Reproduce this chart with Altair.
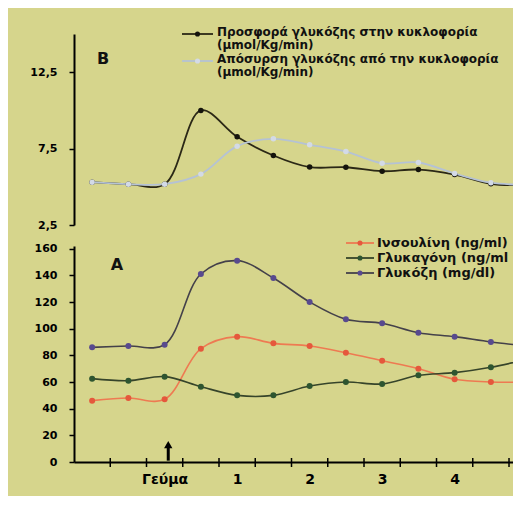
import altair as alt
import pandas as pd

# ---------------- data ----------------
hours = [-1, -0.5, 0, 0.5, 1, 1.5, 2, 2.5, 3, 3.5, 4, 4.5, 5]

# Panel B (umol/Kg/min)
supply = [5.3, 5.17, 5.17, 10.0, 8.27, 7.05, 6.29, 6.28, 6.02, 6.13, 5.8, 5.2, 5.1]
removal = [5.3, 5.17, 5.17, 5.83, 7.66, 8.14, 7.75, 7.31, 6.54, 6.59, 5.87, 5.27, 5.13]

# Panel A
insulin = [46, 48, 47, 85, 94, 89, 87, 82, 76, 70, 62, 60, 60]
glucagon = [62.5, 61, 64, 56.5, 50, 50, 57, 60, 58.5, 65, 67, 71, 77]
glucose = [86, 87, 88, 141, 151, 138, 120, 107, 104, 97, 94, 90, 87]

series_B = ["Προσφορά γλυκόζης στην κυκλοφορία\n(μmol/Kg/min)",
            "Απόσυρση γλυκόζης από την κυκλοφορία\n(μmol/Kg/min)"]
series_A = ["Ινσουλίνη (ng/ml)", "Γλυκαγόνη (ng/ml)", "Γλυκόζη (mg/dl)"]

B_tick_values = [2.5, 7.5, 12.5]
B_tick_labels = ["2,5", "7,5", "12,5"]
A_tick_values = [0, 20, 40, 60, 80, 100, 120, 140, 160]
x_label_values = [0, 1, 2, 3, 4]
x_label_texts = ["Γεύμα", "1", "2", "3", "4"]
x_tick_values = [-0.75, -0.25, 0.25, 0.75, 1.25, 1.75, 2.25, 2.75, 3.25, 3.75, 4.25, 4.75]
meal_arrow = {"t": [0.05], "lo": [1], "hi": [13]}
panel_letters = ["B", "A"]

# ---------------- styling ----------------
BG = "#d6d58c"
FONT = "DejaVu Sans"
B_line_colors = ["#2b2816", "#b5c2d4"]
B_dot_colors = ["#15140c", "#d3dae6"]
A_line_colors = ["#ee7a52", "#36442a", "#44414a"]
A_dot_colors = ["#e5583c", "#2e5530", "#584a8e"]

W = 439
X_DOM = [-1.25, 4.805]
B_DOM = [2.5, 15.0]
A_DOM = [0, 162]
HB = 191
HA = 216

xs = alt.Scale(domain=X_DOM, nice=False, zero=False)
bs = alt.Scale(domain=B_DOM, nice=False, zero=False)
ascale = alt.Scale(domain=A_DOM, nice=False, zero=False)


def label_expr(vals, labels):
    return " : ".join(f"datum.value == {v} ? '{l}'" for v, l in zip(vals, labels)) + " : ''"


x_axis = alt.Axis(values=x_label_values, labelExpr=label_expr(x_label_values, x_label_texts),
                  ticks=False, grid=False, domain=True, domainColor="black", domainWidth=2,
                  labelFont=FONT, labelFontWeight="bold", labelFontSize=14, labelColor="black",
                  labelPadding=10, labelFlush=False, title=None)

common_y = dict(grid=False, domain=True, domainColor="black", domainWidth=2, ticks=True,
                tickSize=5, tickWidth=1.5, tickColor="black", labelFont=FONT,
                labelFontWeight="bold", labelFontSize=11, labelColor="black", labelPadding=12,
                title=None)
B_axis = alt.Axis(values=B_tick_values, labelExpr=label_expr(B_tick_values, B_tick_labels), **common_y)
A_axis = alt.Axis(values=A_tick_values, **common_y)

dfB = pd.DataFrame({
    "t": hours * 2,
    "v": supply + removal,
    "s": [series_B[0]] * len(hours) + [series_B[1]] * len(hours),
})
dfA = pd.DataFrame({
    "t": hours * 3,
    "v": insulin + glucagon + glucose,
    "s": [series_A[0]] * len(hours) + [series_A[1]] * len(hours) + [series_A[2]] * len(hours),
})


def legend(labels, line_colors, dot_colors, sym_x0, sym_x1, text_x, sym_ys, text_ys, baseline,
           limit, size, line_height):
    out = []
    for lab, lc, dc, sy, ty in zip(labels, line_colors, dot_colors, sym_ys, text_ys):
        d = pd.DataFrame({"label": [lab]})
        out.append(alt.Chart(d).mark_rule(color=lc, strokeWidth=1.8).encode(
            x=alt.value(sym_x0), x2=alt.value(sym_x1), y=alt.value(sy)))
        out.append(alt.Chart(d).mark_circle(color=dc, size=26, opacity=1).encode(
            x=alt.value((sym_x0 + sym_x1) / 2), y=alt.value(sy)))
        out.append(alt.Chart(d).mark_text(
            align="left", baseline=baseline, font=FONT, fontSize=size, fontWeight="bold",
            color="#111111", lineBreak="\n", lineHeight=line_height, limit=limit,
            ellipsis="\u200b").encode(
            x=alt.value(text_x), y=alt.value(ty), text="label:N"))
    return out


def letter(ch, lx, ly):
    return alt.Chart(pd.DataFrame({"label": [ch]})).mark_text(
        align="center", baseline="middle", font=FONT, fontSize=16, fontWeight="bold",
        color="#111111").encode(x=alt.value(lx), y=alt.value(ly), text="label:N")


# ---------------- panel B ----------------
B_lines = alt.Chart(dfB).mark_line(clip=True, interpolate="catmull-rom", strokeWidth=1.8).encode(
    x=alt.X("t:Q", scale=xs, axis=None),
    y=alt.Y("v:Q", scale=bs, axis=B_axis),
    stroke=alt.Stroke("s:N", scale=alt.Scale(domain=series_B, range=B_line_colors), legend=None),
)
B_dots = alt.Chart(dfB).mark_circle(clip=True, size=30, opacity=1).encode(
    x=alt.X("t:Q", scale=xs, axis=None),
    y=alt.Y("v:Q", scale=bs, axis=B_axis),
    fill=alt.Fill("s:N", scale=alt.Scale(domain=series_B, range=B_dot_colors), legend=None),
)
B_panel = alt.layer(
    B_lines, B_dots,
    *legend(series_B, B_line_colors, B_dot_colors, 108, 139, 143, [0, 27], [-7, 20], "top",
            W - 143, 12, 13),
    letter(panel_letters[0], 29, 25),
).properties(width=W, height=HB)

# ---------------- panel A ----------------
A_lines = alt.Chart(dfA).mark_line(clip=True, interpolate="catmull-rom", strokeWidth=1.6).encode(
    x=alt.X("t:Q", scale=xs, axis=x_axis),
    y=alt.Y("v:Q", scale=ascale, axis=A_axis),
    stroke=alt.Stroke("s:N", scale=alt.Scale(domain=series_A, range=A_line_colors), legend=None),
)
A_dots = alt.Chart(dfA).mark_circle(clip=True, size=36, opacity=1).encode(
    x=alt.X("t:Q", scale=xs, axis=x_axis),
    y=alt.Y("v:Q", scale=ascale, axis=A_axis),
    fill=alt.Fill("s:N", scale=alt.Scale(domain=series_A, range=A_dot_colors), legend=None),
)
x_ticks = alt.Chart(pd.DataFrame({"t": x_tick_values})).mark_rule(color="black", strokeWidth=1.5).encode(
    x=alt.X("t:Q", scale=xs, axis=x_axis), y=alt.value(HA - 4), y2=alt.value(HA + 5))
arrow_df = pd.DataFrame(meal_arrow)
arrow_shaft = alt.Chart(arrow_df).mark_rule(color="black", strokeWidth=3).encode(
    x=alt.X("t:Q", scale=xs, axis=x_axis), y=alt.Y("lo:Q", scale=ascale, axis=A_axis), y2="hi:Q")
arrow_head = alt.Chart(arrow_df).mark_point(shape="triangle-up", filled=True, size=70,
                                            color="black", opacity=1).encode(
    x=alt.X("t:Q", scale=xs, axis=x_axis), y=alt.Y("hi:Q", scale=ascale, axis=A_axis))
A_panel = alt.layer(
    A_lines, A_dots, x_ticks, arrow_shaft, arrow_head,
    *legend(series_A, A_line_colors, A_dot_colors, 272, 300, 303, [-3, 12, 27], [-3, 12, 27],
            "middle", W - 303, 13, 13),
    letter(panel_letters[1], 43, 19),
).properties(width=W, height=HA)

chart = alt.vconcat(B_panel, A_panel, spacing=21, bounds="flush").resolve_scale(
    stroke="independent", fill="independent"
).properties(
    padding={"left": 21, "top": 18, "right": 0, "bottom": 10},
    background=BG,
).configure_view(strokeWidth=0)

chart.save("out.html", embed_options={"renderer": "svg", "actions": False})
